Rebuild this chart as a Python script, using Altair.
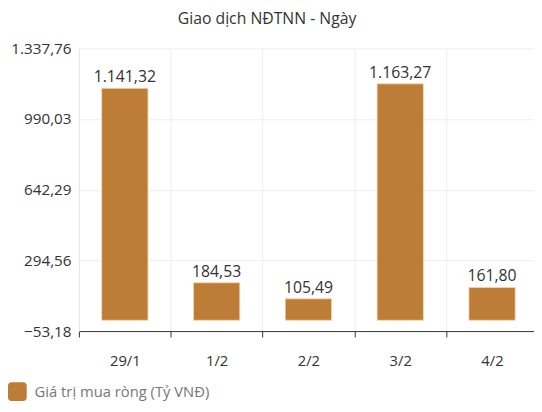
import altair as alt
import pandas as pd

dates = ["29/1", "1/2", "2/2", "3/2", "4/2"]
values = [1141.32, 184.53, 105.49, 1163.27, 161.80]
y_ticks = [-53.18, 294.56, 642.29, 990.03, 1337.76]
series_name = "Giá trị mua ròng (Tỷ VNĐ)"
title_text = "Giao dịch NĐTNN - Ngày"

df = pd.DataFrame({"date": dates, "value": values, "series": [series_name] * len(dates)})

FONT = "Open Sans"
BAR = "#BD7D37"

rounded_square = ("M -0.6 -1 H 0.6 Q 1 -1 1 -0.6 V 0.6 Q 1 1 0.6 1 H -0.6 "
                  "Q -1 1 -1 0.6 V -0.6 Q -1 -1 -0.6 -1 Z")

x = alt.X("date:N", sort=dates, title=None,
          scale=alt.Scale(range=[0, 466], paddingInner=0, paddingOuter=0),
          axis=alt.Axis(labelAngle=0, tickBand="extent", grid=True, gridColor="#eeeeee",
                        domainColor="#333333", tickColor="#333333", tickSize=6,
                        labelPadding=17, labelFontSize=15, labelColor="#333333",
                        labelFont=FONT))
y = alt.Y("value:Q", title=None,
          scale=alt.Scale(domain=[y_ticks[0], y_ticks[-1]], nice=False, zero=False),
          axis=alt.Axis(values=y_ticks, format=",.2f", grid=True, gridColor="#eeeeee",
                        domainColor="#e6e6e6", ticks=False, labelPadding=8,
                        labelFontSize=15.5, labelColor="#333333", labelFont=FONT))

bars = alt.Chart(df).mark_bar(size=47, stroke="#f1d9b8", strokeWidth=0.8).encode(
    x=x,
    y=y,
    y2=alt.datum(0),
    color=alt.Color("series:N", title=None,
                    scale=alt.Scale(range=[BAR]),
                    legend=alt.Legend(orient="none", legendX=-72, legendY=339,
                                      symbolType=rounded_square, symbolSize=361,
                                      symbolStrokeWidth=0, labelFontSize=15,
                                      labelColor="#777777", labelFont=FONT,
                                      labelLimit=0, padding=0, labelOffset=8)),
)

labels = alt.Chart(df).mark_text(baseline="alphabetic", dy=-6, fontSize=16,
                                 color="#333333", font=FONT).encode(
    x=alt.X("date:N", sort=dates),
    y=alt.Y("value:Q"),
    text=alt.Text("value:Q", format=",.2f"),
)

chart = alt.layer(bars, labels).properties(
    width=462, height=287,
    padding={"left": 72, "top": 38, "right": 0, "bottom": 70},
    autosize=alt.AutoSizeParams(type="none"),
    title=alt.TitleParams(title_text, fontSize=16, font=FONT, color="#333333",
                          fontWeight="normal", anchor="middle", dx=-40, offset=15),
).configure(
    locale={"number": {"decimal": ",", "thousands": ".", "grouping": [3],
                       "currency": ["", ""]}}
).configure_view(stroke=None)

chart.save("out.html", embed_options={"renderer": "svg", "actions": False})
